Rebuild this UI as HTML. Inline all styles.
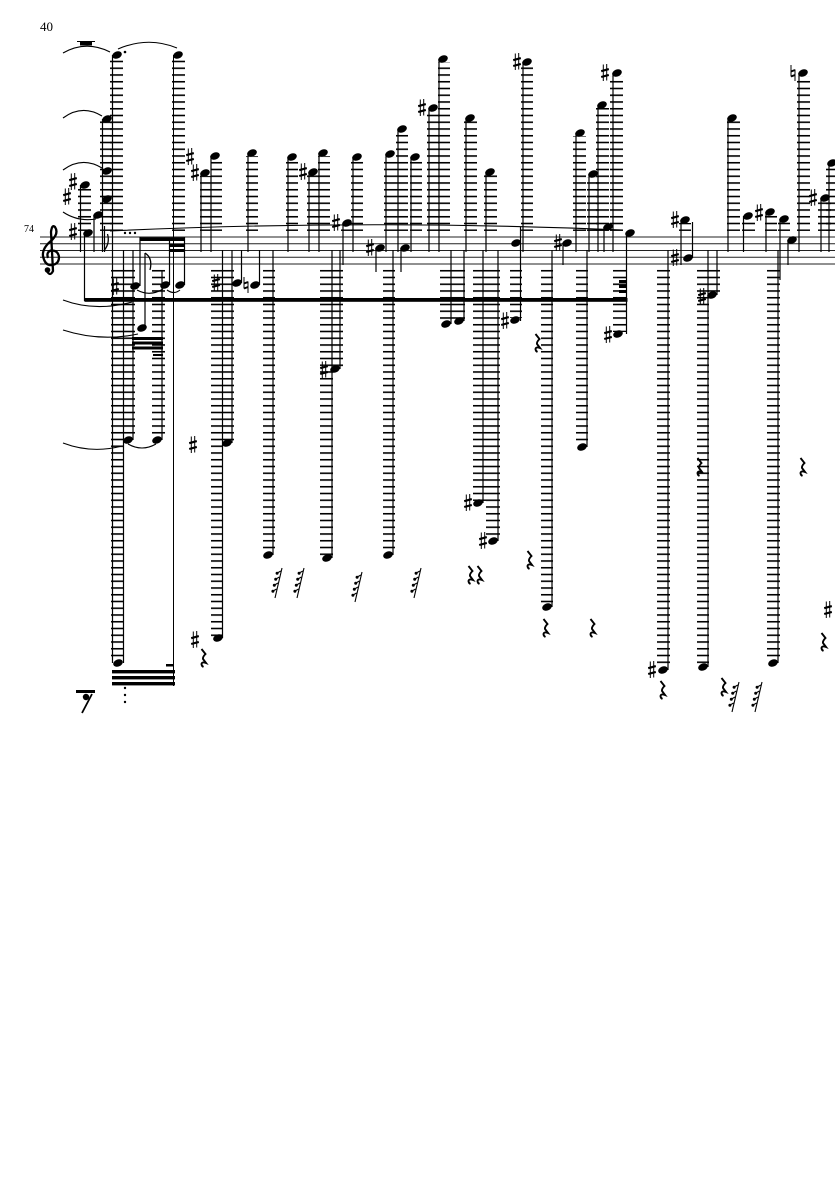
<!DOCTYPE html>
<html><head><meta charset="utf-8"><style>
html,body{margin:0;padding:0;background:#fff;}
svg{display:block;}
</style></head><body>
<svg width="835" height="1181" viewBox="0 0 835 1181" xmlns="http://www.w3.org/2000/svg">
<defs>
<pattern id="L" patternUnits="userSpaceOnUse" x="0" y="236.2" width="10" height="6.75"><rect x="0" y="0" width="10" height="1.6" fill="#000"/></pattern>
<ellipse id="h" cx="0" cy="0" rx="5" ry="3.5" transform="rotate(-22)" fill="#000"/>
<g id="s" stroke="#000" fill="none"><path d="M-1.7,-8.5 V8 M1.7,-9 V7.5" stroke-width="1"/><path d="M-3.8,-1.8 L3.8,-3.9 M-3.8,4 L3.8,1.9" stroke-width="2.2"/></g>
<g id="nt" stroke="#000" fill="none"><path d="M-2,-8 V3.5 M2,8 V-3.5" stroke-width="1"/><path d="M-2,-1.5 L2,-3 M-2,3.5 L2,2" stroke-width="2"/></g>
<path id="r" d="M-1.5,-9 L2.5,-4 Q-0.5,-1 0,1 L3,5 Q-1,3.5 -1.5,6 Q-1.5,8 0.5,9" stroke="#000" stroke-width="1.9" fill="none"/>
<g id="q" stroke="#000" fill="none" stroke-width="1.1"><path d="M4,-15 L-3,15"/><path d="M-0.7,-10 L2.8,-12 M-2.1,-4 L1.4,-6 M-3.5,2 L0,0 M-4.9,8 L-1.4,6"/><g fill="#000" stroke="none"><circle cx="-0.9" cy="-9.8" r="1.5"/><circle cx="-2.3" cy="-3.8" r="1.5"/><circle cx="-3.7" cy="2.2" r="1.5"/><circle cx="-5.1" cy="8.2" r="1.5"/></g></g>
</defs>
<rect width="835" height="1181" fill="#fff"/>

<text x="40" y="31" font-family="Liberation Serif, serif" font-size="13" fill="#000">40</text>
<text x="24" y="232" font-family="Liberation Serif, serif" font-size="10" fill="#000">74</text>

<!-- staff -->
<g stroke="#222" stroke-width="1">
<line x1="40" y1="237" x2="835" y2="237"/>
<line x1="40" y1="243.75" x2="835" y2="243.75"/>
<line x1="40" y1="250.5" x2="835" y2="250.5"/>
<line x1="40" y1="257.25" x2="835" y2="257.25"/>
<line x1="40" y1="264" x2="835" y2="264"/>
</g>

<!-- treble clef -->
<g stroke="#000" fill="none" stroke-width="2.3">
<path d="M47,271 Q50,277 53,271 L51,232 Q52,224 55,227 Q59,233 52,240 Q42,248 43,256 Q45,266 52,265 Q59,264 59,257 Q58,250 51,250.5 Q46,252 48,258"/>
</g>
<circle cx="47.5" cy="270" r="2.8" fill="#000"/>

<!-- ledger columns above -->
<g fill="url(#L)">
<rect x="78" y="188" width="13" height="43"/>
<rect x="100" y="121" width="12" height="110"/>
<rect x="110" y="58" width="13" height="173"/>
<rect x="172" y="58" width="13" height="173"/>
<rect x="200" y="176" width="11" height="55"/>
<rect x="211" y="159" width="11" height="72"/>
<rect x="246" y="156" width="12" height="75"/>
<rect x="286" y="160" width="12" height="71"/>
<rect x="307" y="175" width="12" height="56"/>
<rect x="318" y="156" width="12" height="75"/>
<rect x="341" y="226" width="12" height="5"/>
<rect x="351" y="160" width="12" height="71"/>
<rect x="384" y="157" width="12" height="74"/>
<rect x="396" y="132" width="12" height="99"/>
<rect x="410" y="160" width="12" height="71"/>
<rect x="427" y="111" width="12" height="120"/>
<rect x="438" y="62" width="12" height="169"/>
<rect x="464" y="121" width="13" height="110"/>
<rect x="484" y="175" width="13" height="56"/>
<rect x="521" y="65" width="12" height="166"/>
<rect x="573" y="136" width="13" height="95"/>
<rect x="587" y="177" width="12" height="54"/>
<rect x="596" y="108" width="13" height="123"/>
<rect x="610" y="76" width="13" height="155"/>
<rect x="679" y="223" width="12" height="8"/>
<rect x="727" y="121" width="13" height="110"/>
<rect x="742" y="219" width="13" height="12"/>
<rect x="765" y="215" width="12" height="16"/>
<rect x="778" y="222" width="12" height="9"/>
<rect x="797" y="76" width="13" height="155"/>
<rect x="818" y="201" width="13" height="30"/>
<rect x="826" y="166" width="9" height="65"/>
</g>

<!-- ledger columns below -->
<g fill="url(#L)">
<rect x="111" y="269" width="12" height="392"/>
<rect x="123" y="269" width="12" height="169"/>
<rect x="152" y="269" width="13" height="169"/>
<rect x="211" y="269" width="12" height="369"/>
<rect x="223" y="269" width="11" height="172"/>
<rect x="263" y="269" width="12" height="284"/>
<rect x="320" y="269" width="13" height="287"/>
<rect x="333" y="269" width="10" height="98"/>
<rect x="383" y="269" width="12" height="284"/>
<rect x="440" y="269" width="12" height="53"/>
<rect x="452" y="269" width="13" height="50"/>
<rect x="473" y="269" width="13" height="232"/>
<rect x="486" y="269" width="14" height="270"/>
<rect x="510" y="269" width="12" height="49"/>
<rect x="541" y="269" width="12" height="336"/>
<rect x="576" y="269" width="12" height="176"/>
<rect x="613" y="269" width="13" height="63"/>
<rect x="657" y="269" width="13" height="399"/>
<rect x="697" y="269" width="12" height="396"/>
<rect x="708" y="269" width="12" height="24"/>
<rect x="767" y="269" width="13" height="392"/>
</g>

<!-- stems -->
<g stroke="#000" stroke-width="1.2">
<line x1="80.5" y1="185" x2="80.5" y2="252"/>
<line x1="84.5" y1="233" x2="84.5" y2="301"/>
<line x1="94" y1="215" x2="94" y2="252"/>
<line x1="102.5" y1="119" x2="102.5" y2="252"/>
<line x1="104.5" y1="226" x2="104.5" y2="252"/>
<line x1="112.5" y1="55" x2="112.5" y2="663"/>
<line x1="123.5" y1="250" x2="123.5" y2="663"/>
<line x1="173.5" y1="55" x2="173.5" y2="686" stroke-width="1"/>
<line x1="201" y1="173" x2="201" y2="252"/>
<line x1="211" y1="156" x2="211" y2="252"/>
<line x1="248" y1="153" x2="248" y2="252"/>
<line x1="288" y1="157" x2="288" y2="252"/>
<line x1="309" y1="172" x2="309" y2="252"/>
<line x1="319" y1="153" x2="319" y2="252"/>
<line x1="343" y1="223" x2="343" y2="265"/>
<line x1="353" y1="157" x2="353" y2="252"/>
<line x1="376" y1="248" x2="376" y2="272"/>
<line x1="386" y1="154" x2="386" y2="252"/>
<line x1="398" y1="129" x2="398" y2="252"/>
<line x1="401" y1="248" x2="401" y2="272"/>
<line x1="411" y1="157" x2="411" y2="252"/>
<line x1="429" y1="108" x2="429" y2="252"/>
<line x1="439" y1="59" x2="439" y2="252"/>
<line x1="466" y1="118" x2="466" y2="252"/>
<line x1="486" y1="172" x2="486" y2="252"/>
<line x1="520.5" y1="227" x2="520.5" y2="321"/>
<line x1="523" y1="62" x2="523" y2="252"/>
<line x1="563" y1="243" x2="563" y2="265"/>
<line x1="576" y1="133" x2="576" y2="252"/>
<line x1="589" y1="174" x2="589" y2="252"/>
<line x1="598" y1="105" x2="598" y2="252"/>
<line x1="613" y1="73" x2="613" y2="252"/>
<line x1="604" y1="227" x2="604" y2="252"/>
<line x1="626.5" y1="233" x2="626.5" y2="334"/>
<line x1="681" y1="220" x2="681" y2="265"/>
<line x1="692.5" y1="222" x2="692.5" y2="258"/>
<line x1="728" y1="118" x2="728" y2="252"/>
<line x1="743.5" y1="216" x2="743.5" y2="252"/>
<line x1="766" y1="212" x2="766" y2="252"/>
<line x1="780" y1="219" x2="780" y2="280"/>
<line x1="788" y1="240" x2="788" y2="265"/>
<line x1="799" y1="73" x2="799" y2="252"/>
<line x1="821" y1="198" x2="821" y2="252"/>
<line x1="829" y1="163" x2="829" y2="252"/>
<!-- lower stems -->
<line x1="133" y1="250" x2="133" y2="440"/>
<line x1="162" y1="270" x2="162" y2="440"/>
<line x1="140" y1="237" x2="140" y2="286"/>
<line x1="169.5" y1="241" x2="169.5" y2="285"/>
<line x1="184.5" y1="237" x2="184.5" y2="285"/>
<line x1="145" y1="253" x2="145" y2="328"/>
<line x1="222.5" y1="250" x2="222.5" y2="638"/>
<line x1="232" y1="250" x2="232" y2="443"/>
<line x1="241.5" y1="250" x2="241.5" y2="283"/>
<line x1="259.5" y1="250" x2="259.5" y2="285"/>
<line x1="273" y1="250" x2="273" y2="555"/>
<line x1="332" y1="250" x2="332" y2="558"/>
<line x1="340" y1="250" x2="340" y2="369"/>
<line x1="393" y1="250" x2="393" y2="555"/>
<line x1="451" y1="250" x2="451" y2="324"/>
<line x1="464" y1="250" x2="464" y2="321"/>
<line x1="483" y1="250" x2="483" y2="503"/>
<line x1="498" y1="250" x2="498" y2="541"/>
<line x1="552" y1="250" x2="552" y2="607"/>
<line x1="587" y1="250" x2="587" y2="447"/>
<line x1="668" y1="250" x2="668" y2="670"/>
<line x1="708" y1="250" x2="708" y2="667"/>
<line x1="717" y1="250" x2="717" y2="295"/>
<line x1="778" y1="250" x2="778" y2="663"/>
</g>

<!-- beams -->
<g fill="#000">
<rect x="84.5" y="298" width="543" height="3.8"/>
<rect x="140" y="237.5" width="45" height="3.5"/>
<rect x="170" y="244" width="15" height="3"/>
<rect x="170" y="249" width="15" height="3"/>
<rect x="619" y="280" width="8" height="3"/>
<rect x="619" y="285" width="8" height="3"/>
<rect x="619" y="290" width="8" height="3"/>
<rect x="132" y="337" width="31" height="3"/>
<rect x="132" y="341.5" width="31" height="3"/>
<rect x="132" y="346.5" width="31" height="3"/>
<rect x="153" y="354" width="10" height="2"/>
<rect x="112" y="670" width="63" height="3.4"/>
<rect x="112" y="676" width="63" height="3.4"/>
<rect x="112" y="682" width="63" height="3.4"/>
<rect x="166" y="664" width="8" height="2.5"/>
<rect x="80" y="41.5" width="12" height="4"/>
<rect x="76" y="690" width="19" height="3"/>
</g>
<line x1="77" y1="41.5" x2="95" y2="41.5" stroke="#000" stroke-width="1"/>
<circle cx="86" cy="697" r="3.2" fill="#000"/>
<line x1="92" y1="694" x2="82" y2="713" stroke="#000" stroke-width="1.8"/>

<!-- flags -->
<g stroke="#000" fill="none" stroke-width="1.3">
<path d="M104.5,250 Q110,243 107.5,234"/>
<path d="M145,253 Q153,258 150,270"/>
</g>

<!-- slurs / ties -->
<g stroke="#000" fill="none" stroke-width="1.1">
<path d="M63,53 Q86,40 110,52"/>
<path d="M118,49 Q148,36 177,48"/>
<path d="M63,118 Q82,104 102,116"/>
<path d="M63,170 Q82,156 102,168"/>
<path d="M63,212 Q78,222 96,219"/>
<path d="M63,300 Q95,312 132,302"/>
<path d="M63,330 Q100,342 138,334"/>
<path d="M63,443 Q92,454 122,446"/>
<path d="M137,290 Q150,297 163,289"/>
<path d="M167,290 Q174,295 180,290"/>
<path d="M128,444 Q142,452 156,444"/>
<path d="M110,231 Q360,219 623,230"/>
</g>

<!-- dots -->
<g fill="#000">
<circle cx="125" cy="52" r="1.3"/>
<circle cx="125" cy="233" r="1.2"/><circle cx="130" cy="233" r="1.2"/><circle cx="135" cy="233" r="1.2"/>
<circle cx="125" cy="688" r="1.2"/><circle cx="125" cy="695" r="1.2"/><circle cx="125" cy="702" r="1.2"/>
</g>

<!-- noteheads -->
<g>
<use href="#h" x="85" y="185"/><use href="#h" x="88" y="233"/><use href="#h" x="98" y="215"/>
<use href="#h" x="107" y="119"/><use href="#h" x="107" y="171"/><use href="#h" x="107" y="199"/>
<use href="#h" x="117" y="55"/><use href="#h" x="178" y="55"/>
<use href="#h" x="205" y="173"/><use href="#h" x="215" y="156"/><use href="#h" x="252" y="153"/>
<use href="#h" x="292" y="157"/><use href="#h" x="313" y="172"/><use href="#h" x="323" y="153"/>
<use href="#h" x="347" y="223"/><use href="#h" x="357" y="157"/><use href="#h" x="380" y="248"/>
<use href="#h" x="390" y="154"/><use href="#h" x="402" y="129"/><use href="#h" x="405" y="248"/>
<use href="#h" x="415" y="157"/><use href="#h" x="433" y="108"/><use href="#h" x="443" y="59"/>
<use href="#h" x="470" y="118"/><use href="#h" x="490" y="172"/><use href="#h" x="516" y="243"/>
<use href="#h" x="527" y="62"/><use href="#h" x="567" y="243"/><use href="#h" x="580" y="133"/>
<use href="#h" x="593" y="174"/><use href="#h" x="602" y="105"/><use href="#h" x="617" y="73"/>
<use href="#h" x="608" y="227"/><use href="#h" x="630" y="233"/><use href="#h" x="685" y="220"/>
<use href="#h" x="688" y="258"/><use href="#h" x="732" y="118"/><use href="#h" x="748" y="216"/>
<use href="#h" x="770" y="212"/><use href="#h" x="784" y="219"/><use href="#h" x="792" y="240"/>
<use href="#h" x="803" y="73"/><use href="#h" x="825" y="198"/><use href="#h" x="832" y="163"/>
<use href="#h" x="118" y="663"/><use href="#h" x="128" y="440"/><use href="#h" x="157" y="440"/>
<use href="#h" x="135" y="286"/><use href="#h" x="165" y="285"/><use href="#h" x="180" y="285"/>
<use href="#h" x="142" y="328"/><use href="#h" x="218" y="638"/><use href="#h" x="227" y="443"/>
<use href="#h" x="237" y="283"/><use href="#h" x="255" y="285"/><use href="#h" x="268" y="555"/>
<use href="#h" x="327" y="558"/><use href="#h" x="335" y="369"/><use href="#h" x="388" y="555"/>
<use href="#h" x="446" y="324"/><use href="#h" x="459" y="321"/><use href="#h" x="478" y="503"/>
<use href="#h" x="493" y="541"/><use href="#h" x="515" y="320"/><use href="#h" x="547" y="607"/>
<use href="#h" x="582" y="447"/><use href="#h" x="618" y="334"/><use href="#h" x="663" y="670"/>
<use href="#h" x="703" y="667"/><use href="#h" x="712" y="295"/><use href="#h" x="773" y="663"/>
</g>

<!-- accidentals -->
<g>
<use href="#s" x="73" y="182"/><use href="#s" x="67" y="197"/><use href="#s" x="73" y="232"/>
<use href="#s" x="190" y="157"/><use href="#s" x="195" y="173"/><use href="#s" x="303" y="172"/>
<use href="#s" x="336" y="223"/><use href="#s" x="370" y="248"/><use href="#s" x="422" y="108"/>
<use href="#s" x="517" y="62"/><use href="#s" x="558" y="243"/><use href="#s" x="605" y="73"/>
<use href="#s" x="675" y="220"/><use href="#s" x="675" y="258"/><use href="#s" x="759" y="213"/>
<use href="#s" x="813" y="198"/><use href="#s" x="115" y="287"/><use href="#s" x="216" y="283"/>
<use href="#s" x="193" y="445"/><use href="#s" x="195" y="640"/><use href="#s" x="324" y="370"/>
<use href="#s" x="468" y="503"/><use href="#s" x="483" y="541"/><use href="#s" x="505" y="321"/>
<use href="#s" x="608" y="335"/><use href="#s" x="652" y="670"/><use href="#s" x="702" y="297"/>
<use href="#s" x="828" y="610"/>
<use href="#nt" x="246" y="285"/><use href="#nt" x="793" y="73"/>
</g>

<!-- rests -->
<g>
<use href="#r" x="203" y="658"/><use href="#r" x="537" y="343"/><use href="#r" x="529" y="560"/>
<use href="#r" x="545" y="628"/><use href="#r" x="592" y="628"/><use href="#r" x="699" y="467"/>
<use href="#r" x="802" y="467"/><use href="#r" x="662" y="690"/><use href="#r" x="723" y="687"/>
<use href="#r" x="823" y="642"/><use href="#r" x="470" y="575"/><use href="#r" x="479" y="575"/>
<use href="#q" x="278" y="583"/><use href="#q" x="300" y="583"/><use href="#q" x="358" y="587"/>
<use href="#q" x="417" y="583"/><use href="#q" x="735" y="697"/><use href="#q" x="758" y="697"/>
</g>
</svg>
</body></html>
